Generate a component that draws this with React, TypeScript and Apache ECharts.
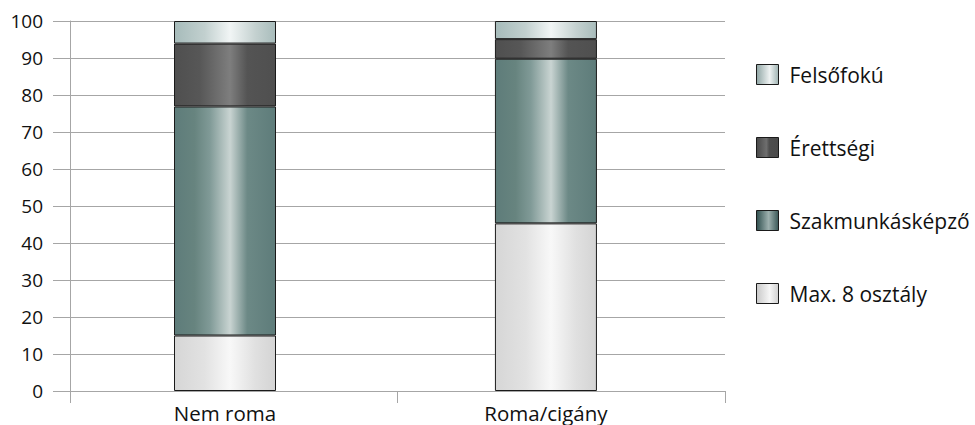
import React, { useEffect, useRef } from "react";
import * as echarts from "echarts";

const categories = ["Nem roma", "Roma/cigány"];
const seriesNames = ["Max. 8 osztály", "Szakmunkásképző", "Érettségi", "Felsőfokú"];
const max8 = [15, 45.3];
const szakmunkas = [61.9, 44.5];
const erettsegi = [17, 5.3];
const felsofoku = [6.1, 4.9];
const yTicks = [0, 10, 20, 30, 40, 50, 60, 70, 80, 90, 100];

const FONT = "'Open Sans', sans-serif";

function grad(stops: [number, string][]) {
  return new echarts.graphic.LinearGradient(
    0, 0, 1, 0,
    stops.map(([offset, color]) => ({ offset, color }))
  );
}

const barColors = [
  grad([[0, "#d6d6d6"], [0.3, "#e2e2e2"], [0.55, "#f8f8f8"], [0.8, "#e0e0e0"], [1, "#d4d4d4"]]),
  grad([[0, "#5e7c7a"], [0.2, "#67847f"], [0.35, "#809a97"], [0.55, "#c9d4d2"], [0.72, "#6c8986"], [1, "#5e7c7a"]]),
  grad([[0, "#4f4f4f"], [0.25, "#575757"], [0.55, "#7e7e7e"], [0.72, "#545454"], [1, "#4f4f4f"]]),
  grad([[0, "#a6bbba"], [0.3, "#c2d0cf"], [0.55, "#f1f5f5"], [0.8, "#c4d1d0"], [1, "#a8bcbb"]]),
];

const legendColors = [
  grad([[0, "#c8c8c8"], [0.6, "#f6f6f6"], [1, "#cfcfcf"]]),
  grad([[0, "#2f4f4e"], [0.55, "#9db0ae"], [1, "#3a5857"]]),
  grad([[0, "#484848"], [0.45, "#6e6e6e"], [0.58, "#4e4e4e"], [1, "#4a4a4a"]]),
  grad([[0, "#8fa5a4"], [0.6, "#eef2f2"], [1, "#9fb3b2"]]),
];

const values = [max8, szakmunkas, erettsegi, felsofoku];

// category positions on the hidden linear x scale
const xMin = 0.517;
const xMax = 2.558;
const xMid = 1.536;

export default function App() {
  const ref = useRef<HTMLDivElement>(null);
  useEffect(() => {
    if (!ref.current) return;
    const chart = echarts.init(ref.current, undefined, { renderer: "svg" });
    const gridColor = "#a6a6a6";
    chart.setOption({
      animation: false,
      backgroundColor: "#ffffff",
      grid: { left: 70, right: 250, top: 21, bottom: 34, containLabel: false },
      legend: {
        orient: "vertical",
        left: 751,
        top: 59,
        itemWidth: 22,
        itemHeight: 20,
        itemGap: 52,
        icon: "rect",
        textStyle: { fontFamily: FONT, fontSize: 21, color: "#111", padding: [0, 0, 0, 6] },
        data: seriesNames
          .map((n, i) => ({
            name: n,
            itemStyle: { color: legendColors[i], borderColor: "#1a1a1a", borderWidth: 1 },
          }))
          .reverse(),
      },
      xAxis: {
        type: "value",
        min: xMin,
        max: xMax,
        splitLine: { show: false },
        axisLine: { show: true, lineStyle: { color: gridColor, width: 1 } },
        axisTick: {
          show: true,
          length: 12,
          lineStyle: { color: gridColor, width: 1 },
          customValues: [xMin, xMid, xMax],
        },
        axisLabel: {
          customValues: categories.map((_, i) => i + 1),
          formatter: (v: number) => categories[Math.round(v) - 1] ?? "",
          fontFamily: FONT,
          fontSize: 20.5,
          color: "#111",
          margin: 11,
        },
      },
      yAxis: {
        type: "value",
        min: 0,
        max: 100,
        interval: 10,
        axisLine: { show: true, lineStyle: { color: gridColor, width: 1 } },
        axisTick: { show: true, length: 17, lineStyle: { color: gridColor, width: 1 } },
        splitLine: { show: true, lineStyle: { color: gridColor, width: 1 } },
        axisLabel: {
          fontFamily: FONT,
          fontSize: 19,
          color: "#111",
          margin: 27,
          formatter: (v: number) => (yTicks.includes(v) ? String(v) : ""),
        },
      },
      series: seriesNames.map((name, si) => ({
        name,
        type: "bar",
        stack: "total",
        barWidth: 102,
        encode: { x: 1, y: 0 },
        itemStyle: { color: barColors[si], borderColor: "#1a1a1a", borderWidth: 1 },
        data: categories.map((_, ci) => [values[si][ci], ci + 1]),
      })),
    });
    return () => chart.dispose();
  }, []);
  return <div ref={ref} style={{ width: 975, height: 425, position: "absolute", left: 0, top: 0 }} />;
}
